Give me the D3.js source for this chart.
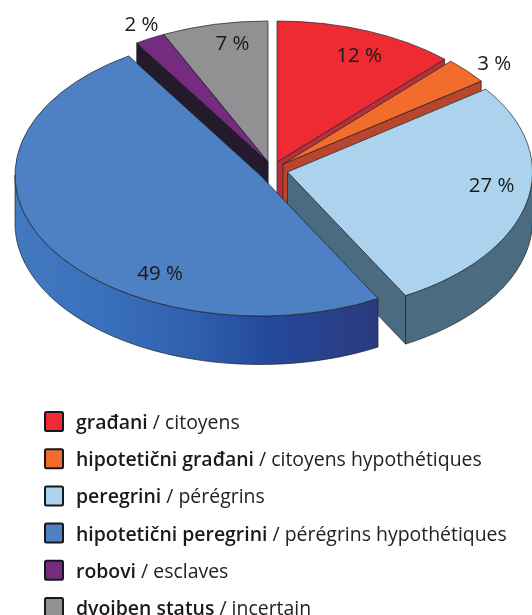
<!DOCTYPE html>
<html>
<head>
<meta charset="utf-8">
<script src="https://cdn.jsdelivr.net/npm/d3@7"></script>
<style>
html,body{margin:0;padding:0;background:#fff;overflow:hidden}
svg{display:block;filter:blur(0.45px)}
text{font-family:"Open Sans","Noto Sans",sans-serif;fill:#1a1a1a}
</style>
</head>
<body>
<div id="chart"></div>
<script>
const categoriesHr = ["građani","hipotetični građani","peregrini","hipotetični peregrini","robovi","dvojben status"];
const categoriesFr = ["citoyens","citoyens hypothétiques","pérégrins","pérégrins hypothétiques","esclaves","incertain"];
const values = [12,3,27,49,2,7];
const topColors = ["#ee2b33","#f26c2b","#acd3ee","#4e81c4","#752b80","#8f9192"];
const wallColors = ["#b8303a","#b8452c","#4a6b80","url(#blueWall)","#231b2c","#46575a"];

// layout (not data)
const W = 532, H = 615, rx = 245, ry = 141, depth = 48.5;
const apexX = [277,283,287.5,260,268,268];
const apexY = [162,164,172,175,162,162];
const labelDx = [-8,27.5,-35,111,-8.5,18];
const labelDy = [31,-1,-11,33,-7,26];
const drawOrder = [5,4,0,1,2,3];
const edge = "#1d2428";

const svg = d3.select("#chart").append("svg").attr("width",W).attr("height",H);
const grad = svg.append("defs").append("linearGradient").attr("id","blueWall")
  .attr("gradientUnits","userSpaceOnUse").attr("x1",14).attr("x2",378).attr("y1",0).attr("y2",0);
[[0,"#4279c0"],[.25,"#3a70bb"],[.5,"#2f5fae"],[.7,"#24499b"],[1,"#2b3a7f"]]
  .forEach(s=>grad.append("stop").attr("offset",s[0]).attr("stop-color",s[1]));

const slices = d3.pie().sort(null).value(d=>d)(values);
const arc = d3.arc().innerRadius(0).outerRadius(rx);
const px = (i,a)=>apexX[i]+rx*Math.sin(a);
const py = (i,a)=>apexY[i]-ry*Math.cos(a);
const line = d3.line();

function cut(i,a){
  return line([[apexX[i],apexY[i]],[px(i,a),py(i,a)],[px(i,a),py(i,a)+depth],[apexX[i],apexY[i]+depth]])+"Z";
}
function outerWall(i,a0,a1){
  const n = 60, ts = d3.range(n+1).map(k=>a0+(a1-a0)*k/n);
  const up = ts.map(t=>[px(i,t),py(i,t)]);
  const dn = ts.map(t=>[px(i,t),py(i,t)+depth]).reverse();
  return line(up.concat(dn))+"Z";
}
const PI = Math.PI;
drawOrder.forEach(i=>{
  const s = slices[i], g = svg.append("g");
  const style = sel=>sel.attr("fill",wallColors[i]).attr("stroke",edge).attr("stroke-width",.7).attr("stroke-linejoin","round");
  if (Math.sin(s.startAngle) < -1e-6) g.append("path").attr("d",cut(i,s.startAngle)).call(style);
  if (Math.sin(s.endAngle) > 1e-6) g.append("path").attr("d",cut(i,s.endAngle)).call(style);
  const a0 = Math.max(s.startAngle,PI/2), a1 = Math.min(s.endAngle,3*PI/2);
  if (a1>a0) g.append("path").attr("d",outerWall(i,a0,a1)).call(style);
  g.append("path").attr("d",arc(s))
    .attr("transform",`translate(${apexX[i]},${apexY[i]}) scale(1,${ry/rx})`)
    .attr("fill",topColors[i]).attr("stroke",edge).attr("stroke-width",.7)
    .attr("vector-effect","non-scaling-stroke").attr("stroke-linejoin","round");
});

// value labels
svg.append("g").selectAll("text").data(slices).join("text")
  .attr("x",(s,i)=>px(i,(s.startAngle+s.endAngle)/2)+labelDx[i])
  .attr("y",(s,i)=>py(i,(s.startAngle+s.endAngle)/2)+labelDy[i])
  .attr("text-anchor","middle").attr("font-size",20.5)
  .text(s=>s.value+" %");

// legend
const rowY = d3.scaleLinear().domain([0,categoriesHr.length-1]).range([421.5,607.5]);
const leg = svg.append("g").selectAll("g").data(categoriesHr).join("g")
  .attr("transform",(d,i)=>`translate(0,${rowY(i)})`);
leg.append("rect").attr("x",45).attr("y",-9.5).attr("width",18).attr("height",19).attr("rx",1.5)
  .attr("fill",(d,i)=>topColors[i]).attr("stroke","#15181b").attr("stroke-width",2);
const t = leg.append("text").attr("x",76).attr("y",7.5).attr("font-size",19.45);
t.append("tspan").attr("font-weight",600).text(d=>d);
t.append("tspan").attr("fill","#222").text((d,i)=>" / "+categoriesFr[i]);
</script>
</body>
</html>
